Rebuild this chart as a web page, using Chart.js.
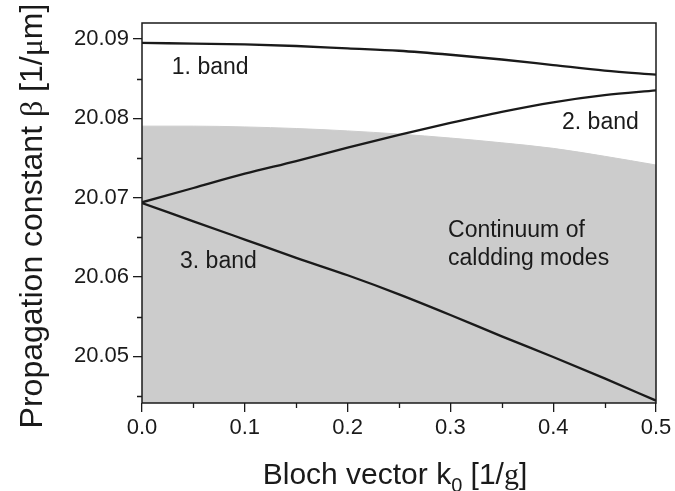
<!DOCTYPE html>
<html lang="en">
<head>
    <meta charset="UTF-8">
    <title>Bloch bands</title>
    <script src="https://cdn.jsdelivr.net/npm/chart.js"></script>
    <style>
        body { margin: 0; background: #fff; }
        .wrap { width: 675px; height: 491px; }
    </style>
</head>
<body>
    <div class="wrap">
        <canvas id="bandChart"></canvas>
    </div>

    <script>
        // Bloch vector k0 [1/g]
        const kValues = [0, 0.05, 0.1, 0.15, 0.2, 0.25, 0.3, 0.35, 0.4, 0.45, 0.5];
        // propagation constant β [1/µm]
        const band1 = [20.0895, 20.0894, 20.0893, 20.0891, 20.0888, 20.0885, 20.0880, 20.0874, 20.0867, 20.0860, 20.0855];
        const band2 = [20.0694, 20.0712, 20.0730, 20.0746, 20.0763, 20.0779, 20.0794, 20.0808, 20.0820, 20.0829, 20.0835];
        const band3 = [20.0693, 20.0670, 20.0647, 20.0624, 20.0602, 20.0578, 20.0552, 20.0525, 20.0499, 20.0472, 20.0444];
        const claddingEdge = [20.0790, 20.0790, 20.0789, 20.0787, 20.0784, 20.0780, 20.0775, 20.0769, 20.0762, 20.0752, 20.0741];

        const xTicks = [0, 0.1, 0.2, 0.3, 0.4, 0.5];
        const xMinorTicks = [0.05, 0.15, 0.25, 0.35, 0.45];
        const yTicks = [20.05, 20.06, 20.07, 20.08, 20.09];
        const yMinorTicks = [20.045, 20.055, 20.065, 20.075, 20.085];

        // text inside the plot: [text, k, beta]
        const notes = [
            ['1. band', 0.029, 20.0856],
            ['2. band', 0.4086, 20.0786],
            ['3. band', 0.037, 20.0611],
            ['Continuum of', 0.2977, 20.0650],
            ['caldding modes', 0.2977, 20.0615]
        ];

        const SANS = '"Liberation Sans", Arial, sans-serif';
        const SERIF = '"Liberation Serif", "Times New Roman", serif';
        const INK = '#1a1a1a';

        const toPoints = arr => arr.map((v, i) => ({ x: kValues[i], y: v }));

        // draw a line of text made of pieces with different fonts
        function richText(ctx, parts, x, y) {
            let w = 0;
            parts.forEach(p => { ctx.font = p.font; w += ctx.measureText(p.text).width; });
            let cx = x - w / 2;
            parts.forEach(p => {
                ctx.font = p.font;
                ctx.fillText(p.text, cx, y + (p.dy || 0));
                cx += ctx.measureText(p.text).width;
            });
        }

        const decorPlugin = {
            id: 'decor',
            afterDraw(chart) {
                const ctx = chart.ctx;
                const a = chart.chartArea;
                const xs = chart.scales.x, ys = chart.scales.y;
                ctx.save();

                // frame
                ctx.strokeStyle = INK;
                ctx.lineWidth = 1.5;
                ctx.strokeRect(a.left, a.top, a.right - a.left, a.bottom - a.top);

                // minor ticks
                ctx.lineWidth = 1.3;
                ctx.beginPath();
                xMinorTicks.forEach(v => {
                    const px = Math.round(xs.getPixelForValue(v)) + 0.5;
                    ctx.moveTo(px, a.bottom);
                    ctx.lineTo(px, a.bottom + 5);
                });
                yMinorTicks.forEach(v => {
                    const py = Math.round(ys.getPixelForValue(v)) + 0.5;
                    ctx.moveTo(a.left, py);
                    ctx.lineTo(a.left - 5, py);
                });
                ctx.stroke();

                // notes
                ctx.fillStyle = INK;
                ctx.font = '23px ' + SANS;
                ctx.textAlign = 'left';
                ctx.textBaseline = 'alphabetic';
                notes.forEach(n => {
                    ctx.fillText(n[0], xs.getPixelForValue(n[1]), ys.getPixelForValue(n[2]));
                });

                // x axis title
                const big = '30px ' + SANS;
                richText(ctx, [
                    { text: 'Bloch vector k', font: big },
                    { text: '0', font: '20px ' + SANS, dy: 8 },
                    { text: ' [1/', font: big },
                    { text: 'g', font: '30px ' + SERIF },
                    { text: ']', font: big }
                ], (a.left + a.right) / 2 - 4, 484);

                // y axis title
                const yBig = '32px ' + SANS;
                ctx.translate(42, (a.top + a.bottom) / 2 + 3);
                ctx.rotate(-Math.PI / 2);
                richText(ctx, [
                    { text: 'Propagation constant ', font: yBig },
                    { text: 'β', font: '32px ' + SERIF },
                    { text: ' [1/', font: yBig },
                    { text: 'μ', font: '32px ' + SERIF },
                    { text: 'm]', font: yBig }
                ], 0, 0);
                ctx.restore();
            }
        };

        const lineStyle = {
            borderColor: INK,
            borderWidth: 2.3,
            pointRadius: 0,
            cubicInterpolationMode: 'monotone',
            fill: false,
            order: 1
        };

        const ctx = document.getElementById('bandChart').getContext('2d');
        const chart = new Chart(ctx, {
            type: 'line',
            data: {
                datasets: [
                    Object.assign({ label: '1. band', data: toPoints(band1) }, lineStyle),
                    Object.assign({ label: '2. band', data: toPoints(band2) }, lineStyle),
                    Object.assign({ label: '3. band', data: toPoints(band3) }, lineStyle),
                    {
                        label: 'Continuum of cladding modes',
                        data: toPoints(claddingEdge),
                        borderColor: '#cccccc',
                        backgroundColor: '#cccccc',
                        borderWidth: 1,
                        pointRadius: 0,
                        cubicInterpolationMode: 'monotone',
                        fill: 'start',
                        order: 10
                    }
                ]
            },
            options: {
                responsive: true,
                maintainAspectRatio: false,
                animation: false,
                layout: { padding: { left: 0, right: 19, top: 23, bottom: 0 } },
                plugins: {
                    legend: { display: false },
                    tooltip: { enabled: false },
                    filler: { drawTime: 'beforeDatasetDraw' }
                },
                scales: {
                    x: {
                        type: 'linear',
                        min: 0,
                        max: 0.5,
                        afterBuildTicks: s => { s.ticks = xTicks.map(v => ({ value: v })); },
                        afterFit: s => { s.height = 88; },
                        grid: { display: true, drawOnChartArea: false, drawTicks: true, tickLength: 9, color: INK, lineWidth: 1.3 },
                        border: { display: false },
                        ticks: {
                            padding: 3,
                            color: INK,
                            font: { family: SANS, size: 22 },
                            maxRotation: 0,
                            callback: v => v.toFixed(1)
                        }
                    },
                    y: {
                        type: 'linear',
                        min: 20.0441,
                        max: 20.092,
                        afterBuildTicks: s => { s.ticks = yTicks.map(v => ({ value: v })); },
                        afterFit: s => { s.width = 142; },
                        grid: { display: true, drawOnChartArea: false, drawTicks: true, tickLength: 9, color: INK, lineWidth: 1.3 },
                        border: { display: false },
                        ticks: {
                            padding: 4,
                            color: INK,
                            font: { family: SANS, size: 22 },
                            callback: v => v.toFixed(2)
                        }
                    }
                }
            },
            plugins: [decorPlugin]
        });
    </script>
</body>
</html>
